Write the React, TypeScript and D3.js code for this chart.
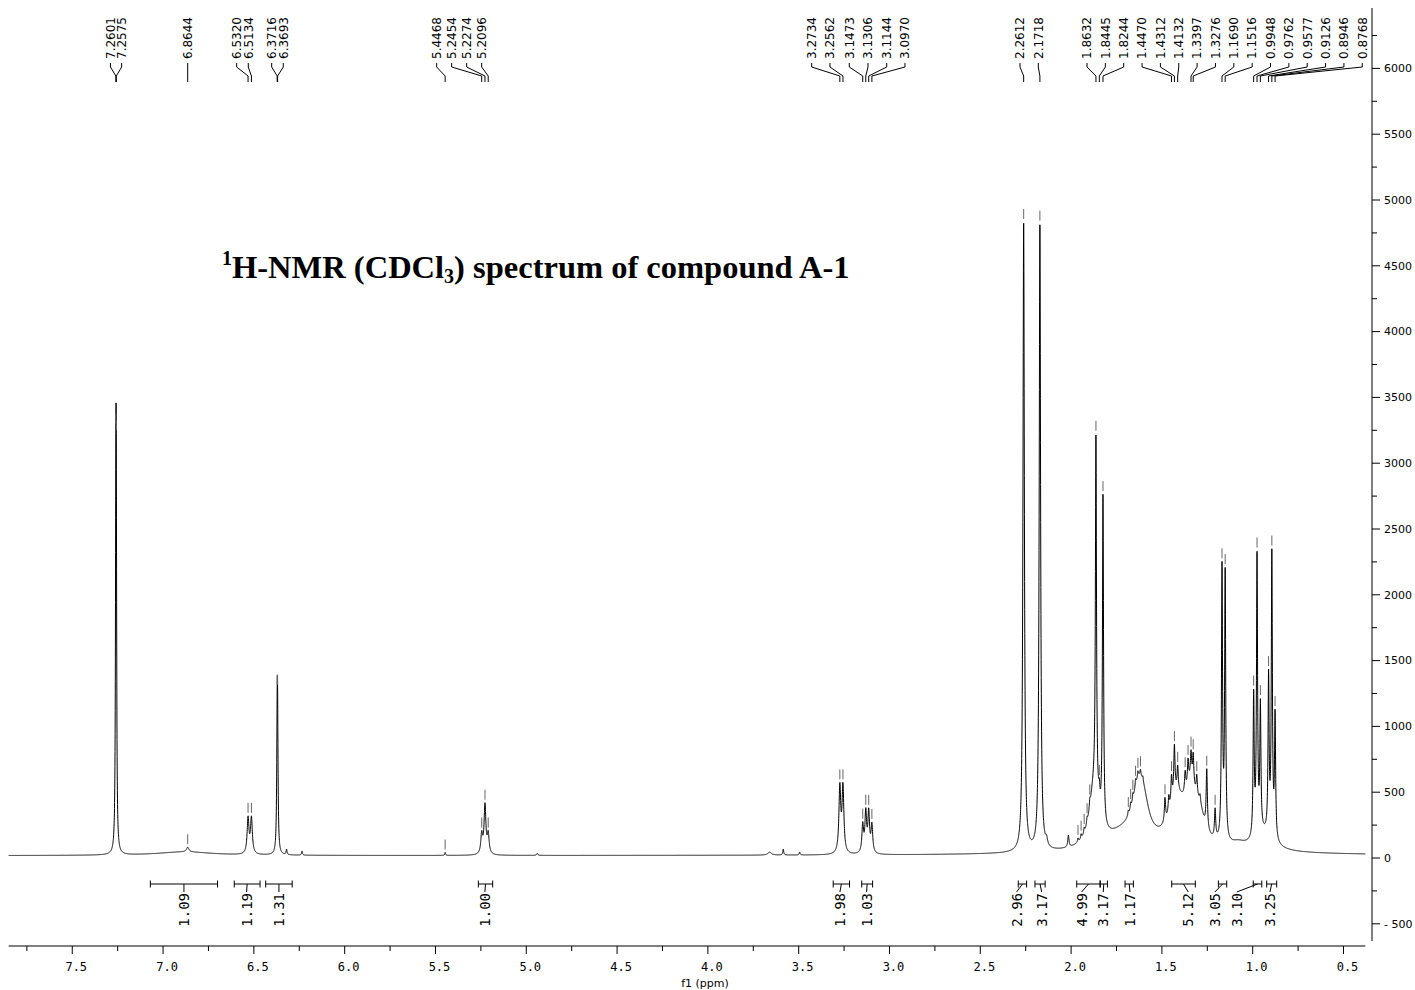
import React from "react";
import * as d3 from "d3";

// ---------- data ----------
// Lorentzian lines: [center ppm, height (a.u.), half width (ppm)]
const aromaticPeaks: [number, number, number][] = [
  [7.2601, 2230, 0.0025],
  [7.2575, 2130, 0.0025],
  [6.88, 28, 0.18],
  [6.8644, 35, 0.008],
  [6.532, 270, 0.006],
  [6.5134, 270, 0.006],
  [6.3716, 780, 0.003],
  [6.3693, 780, 0.003],
  [6.32, 40, 0.003],
  [6.235, 30, 0.003],
  [5.4468, 22, 0.0025],
  [5.2454, 148, 0.006],
  [5.2274, 371, 0.006],
  [5.2096, 148, 0.006],
  [4.94, 15, 0.004],
];

const midPeaks: [number, number, number][] = [
  [3.66, 22, 0.012],
  [3.585, 45, 0.003],
  [3.495, 22, 0.003],
  [3.2734, 496, 0.006],
  [3.2562, 496, 0.006],
  [3.1473, 210, 0.0055],
  [3.1306, 300, 0.0055],
  [3.1144, 300, 0.0055],
  [3.097, 210, 0.0055],
  [2.2612, 4780, 0.0045],
  [2.1718, 4760, 0.0045],
  [2.135, 50, 0.006],
  [2.015, 90, 0.004],
];

const aliphaticPeaks: [number, number, number][] = [
  [1.4, 25, 0.7],
  [1.962, 30, 0.003],
  [1.945, 35, 0.003],
  [1.928, 40, 0.003],
  [1.912, 45, 0.003],
  [1.897, 60, 0.003],
  [1.875, 420, 0.03],
  [1.8632, 2730, 0.0035],
  [1.8445, 120, 0.004],
  [1.8244, 2500, 0.0035],
  [1.72, 110, 0.12],
  [1.63, 360, 0.04],
  [1.6, 190, 0.035],
  [1.685, 35, 0.003],
  [1.672, 45, 0.003],
  [1.66, 50, 0.003],
  [1.645, 55, 0.003],
  [1.632, 45, 0.003],
  [1.618, 45, 0.003],
  [1.605, 35, 0.003],
  [1.42, 330, 0.05],
  [1.34, 380, 0.04],
  [1.29, 150, 0.03],
  [1.483, 180, 0.004],
  [1.462, 120, 0.004],
  [1.447, 200, 0.004],
  [1.4312, 370, 0.004],
  [1.4132, 180, 0.004],
  [1.372, 150, 0.004],
  [1.356, 180, 0.004],
  [1.3397, 200, 0.004],
  [1.3276, 220, 0.004],
  [1.308, 150, 0.004],
  [1.29, 60, 0.004],
  [1.253, 450, 0.004],
  [1.207, 220, 0.004],
  [1.169, 2060, 0.0035],
  [1.1516, 2020, 0.0035],
  [1.08, 40, 0.05],
  [0.94, 120, 0.06],
  [0.9948, 1070, 0.0035],
  [0.9762, 2110, 0.0035],
  [0.9577, 950, 0.0035],
  [0.9126, 1184, 0.0035],
  [0.8946, 2140, 0.0035],
  [0.8768, 931, 0.0035],
];

const baselineLevel = 18;

// peak picking labels (text) and where the label column sits (ppm)
const peakLabels = [
  "7.2601", "7.2575", "6.8644", "6.5320", "6.5134", "6.3716", "6.3693",
  "5.4468", "5.2454", "5.2274", "5.2096",
  "3.2734", "3.2562", "3.1473", "3.1306", "3.1144", "3.0970",
  "2.2612", "2.1718",
  "1.8632", "1.8445", "1.8244", "1.4470", "1.4312", "1.4132", "1.3397", "1.3276",
  "1.1690", "1.1516", "0.9948", "0.9762", "0.9577", "0.9126", "0.8946", "0.8768",
];
const peakLabelPos = [
  7.2897, 7.228, 6.8644, 6.5947, 6.5308, 6.402, 6.3381,
  5.4934, 5.4108, 5.3282, 5.2456,
  3.4284, 3.3277, 3.2214, 3.1184, 3.0154, 2.9147,
  2.2814, 2.1806,
  1.9125, 1.8114, 1.7104, 1.6093, 1.5083, 1.4072, 1.3062, 1.2051,
  1.1041, 1.003, 0.902, 0.8009, 0.6999, 0.5988, 0.4978, 0.3967,
];
// extra (unlabelled) peak-pick markers
const extraMarkers = [1.962, 1.945, 1.928, 1.912, 1.897, 1.685, 1.672, 1.66, 1.645, 1.632, 1.618, 1.483, 1.372, 1.356, 1.308, 1.253, 1.207];

// integrals: [from ppm, to ppm]
const integralRanges: [number, number][] = [
  [7.07, 6.7], [6.608, 6.466], [6.435, 6.289], [5.264, 5.185],
  [3.31, 3.22], [3.153, 3.093], [2.291, 2.245], [2.199, 2.143],
  [1.969, 1.84], [1.84, 1.8], [1.703, 1.657], [1.446, 1.316],
  [1.189, 1.143], [0.997, 0.95], [0.923, 0.868],
];
const integralValues = ["1.09", "1.19", "1.31", "1.00", "1.98", "1.03", "2.96", "3.17", "4.99", "3.17", "1.17", "5.12", "3.05", "3.10", "3.25"];
const integralLabelPos = [6.885, 6.54, 6.362, 5.228, 3.273, 3.126, 2.3, 2.162, 1.942, 1.823, 1.676, 1.355, 1.208, 1.088, 0.905];

const xTicksMajor = [7.5, 7.0, 6.5, 6.0, 5.5, 5.0, 4.5, 4.0, 3.5, 3.0, 2.5, 2.0, 1.5, 1.0, 0.5];
const xTicksMinor = [7.75, 7.25, 6.75, 6.25, 5.75, 5.25, 4.75, 4.25, 3.75, 3.25, 2.75, 2.25, 1.75, 1.25, 0.75];
const yTicksMajor = [-500, 0, 500, 1000, 1500, 2000, 2500, 3000, 3500, 4000, 4500, 5000, 5500, 6000];
const yTicksMinor = [-250, 250, 750, 1250, 1750, 2250, 2750, 3250, 3750, 4250, 4750, 5250, 5750, 6250];

const allPeaks = [...aromaticPeaks, ...midPeaks, ...aliphaticPeaks];

function intensity(p: number): number {
  let v = baselineLevel;
  for (const [c, h, w] of allPeaks) {
    const d = (p - c) / w;
    v += h / (1 + d * d);
  }
  return v;
}

export default function App() {
  const x = d3.scaleLinear().domain([7.85, 0.38]).range([8.7, 1365.3]);
  const y = d3.scaleLinear().domain([0, 6000]).range([858, 68.4]);

  const pts: [number, number][] = [];
  const step = 0.0005;
  const n = Math.round((7.85 - 0.38) / step);
  for (let i = 0; i <= n; i++) {
    const p = 7.85 - i * step;
    pts.push([p, intensity(p)]);
  }
  const line = d3.line<[number, number]>().x((d) => x(d[0])).y((d) => y(d[1]));
  const specPath = line(pts) || "";

  const peakValues = peakLabels.map((t) => parseFloat(t));
  const markerPpms = [...peakValues, ...extraMarkers];

  const axisColor = "#000";
  const yAxisX = 1372;
  const xAxisY = 946;
  const bracketY = 884;

  return (
    <svg width={1415} height={990} style={{ position: "absolute", left: 0, top: 0, background: "#fff" }}>
      <rect x={0} y={0} width={1415} height={990} fill="#fff" />
      {/* title */}
      <text x={222} y={278} fontFamily="Liberation Serif, Times New Roman, serif" fontWeight="bold" fontSize={32.5} fill="#000">
        <tspan fontSize={20} dy={-13}>1</tspan>
        <tspan dy={13}>H-NMR (CDCl</tspan>
        <tspan fontSize={20} dy={5}>3</tspan>
        <tspan dy={-5}>) spectrum of compound A-1</tspan>
      </text>

      {/* spectrum */}
      <path d={specPath} fill="none" stroke="#000" strokeWidth={1} />

      {/* peak pick markers */}
      {markerPpms.map((p, i) => {
        const yy = y(intensity(p));
        return <line key={"m" + i} x1={x(p)} x2={x(p)} y1={yy - 13} y2={yy - 3} stroke="#666" strokeWidth={1} />;
      })}

      {/* peak labels */}
      {peakLabels.map((t, i) => {
        const lx = x(peakLabelPos[i]);
        const px = x(peakValues[i]);
        return (
          <g key={"pl" + i}>
            <path d={`M${lx},63 V67 L${px},76 V82`} fill="none" stroke="#000" strokeWidth={1} />
            <text transform={`translate(${lx},59) rotate(-90)`} dy="0.36em" fontFamily="DejaVu Sans, sans-serif" fontSize={12} fill="#000">
              {t}
            </text>
          </g>
        );
      })}

      {/* integrals */}
      {integralRanges.map((r, i) => {
        const x1 = x(r[0]);
        const x2 = x(r[1]);
        const cx = (x1 + x2) / 2;
        const lx = x(integralLabelPos[i]);
        return (
          <g key={"int" + i}>
            <line x1={x1} x2={x2} y1={bracketY} y2={bracketY} stroke="#000" />
            <line x1={x1} x2={x1} y1={bracketY - 3.5} y2={bracketY + 3.5} stroke="#000" />
            <line x1={x2} x2={x2} y1={bracketY - 3.5} y2={bracketY + 3.5} stroke="#000" />
            <path d={`M${cx},${bracketY} L${lx},${bracketY + 8}`} fill="none" stroke="#000" />
            <text transform={`translate(${lx},${bracketY + 9}) rotate(-90)`} dy="0.36em" textAnchor="end" fontFamily="DejaVu Sans Mono, monospace" fontSize={14} fill="#000">
              {integralValues[i]}
            </text>
          </g>
        );
      })}

      {/* x axis */}
      <line x1={x(7.85)} x2={x(0.38)} y1={xAxisY} y2={xAxisY} stroke={axisColor} />
      {xTicksMajor.map((t) => (
        <g key={"xt" + t}>
          <line x1={x(t)} x2={x(t)} y1={xAxisY} y2={xAxisY + 8} stroke={axisColor} />
          <text x={x(t) + 4} y={971} textAnchor="middle" fontFamily="DejaVu Sans Mono, monospace" fontSize={12} fill="#000">
            {t.toFixed(1)}
          </text>
        </g>
      ))}
      {xTicksMinor.map((t) => (
        <line key={"xm" + t} x1={x(t)} x2={x(t)} y1={xAxisY} y2={xAxisY + 5} stroke={axisColor} />
      ))}
      <text x={705} y={987} textAnchor="middle" fontFamily="DejaVu Sans, sans-serif" fontSize={11} fill="#000">
        f1 (ppm)
      </text>

      {/* y axis */}
      <line x1={yAxisX} x2={yAxisX} y1={8} y2={941} stroke={axisColor} />
      {yTicksMajor.map((t) => (
        <g key={"yt" + t}>
          <line x1={yAxisX} x2={yAxisX + 8} y1={y(t)} y2={y(t)} stroke={axisColor} />
          <text x={1384} y={y(t)} dy="0.35em" fontFamily="DejaVu Sans, sans-serif" fontSize={11} fill="#000">
            {t < 0 ? "- " + Math.abs(t) : String(t)}
          </text>
        </g>
      ))}
      {yTicksMinor.map((t) => (
        <line key={"ym" + t} x1={yAxisX} x2={yAxisX + 5} y1={y(t)} y2={y(t)} stroke={axisColor} />
      ))}
    </svg>
  );
}
